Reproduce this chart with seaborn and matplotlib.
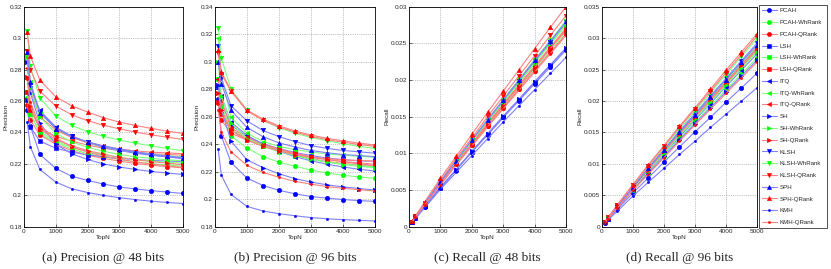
import numpy as np
import pandas as pd
import matplotlib
matplotlib.use('Agg')
import matplotlib.pyplot as plt
from matplotlib.lines import Line2D
from matplotlib.ticker import FuncFormatter, MultipleLocator
import seaborn as sns


topn = [100, 200, 500, 1000, 1500, 2000, 2500, 3000, 3500, 4000, 4500, 5000]

methods = ['PCAH', 'PCAH-WhRank', 'PCAH-QRank', 'LSH', 'LSH-WhRank', 'LSH-QRank',
           'ITQ', 'ITQ-WhRank', 'ITQ-QRank', 'SH', 'SH-WhRank', 'SH-QRank',
           'KLSH', 'KLSH-WhRank', 'KLSH-QRank', 'SPH', 'SPH-QRank', 'KMH', 'KMH-QRank']

# precision @ 48 bits, one row per method (same order as methods)
prec48 = [
    [0.254, 0.244, 0.226, 0.2171, 0.2122, 0.2095, 0.2072, 0.2053, 0.2041, 0.2030, 0.2021, 0.2012],
    [0.262, 0.252, 0.2395, 0.2335, 0.2295, 0.2265, 0.2245, 0.2228, 0.2213, 0.2202, 0.2193, 0.2185],
    [0.2575, 0.248, 0.2385, 0.2325, 0.2285, 0.2255, 0.2235, 0.2218, 0.2203, 0.2192, 0.2183, 0.2175],
    [0.2605, 0.2435, 0.2345, 0.2300, 0.2275, 0.2258, 0.2245, 0.2235, 0.2228, 0.2222, 0.2218, 0.2215],
    [0.2655, 0.2515, 0.2405, 0.2345, 0.2305, 0.2278, 0.2258, 0.2242, 0.2228, 0.2218, 0.2210, 0.2205],
    [0.266, 0.2545, 0.2425, 0.2375, 0.2345, 0.2320, 0.2300, 0.2285, 0.2275, 0.2265, 0.2260, 0.2255],
    [0.285, 0.268, 0.254, 0.2435, 0.2375, 0.2335, 0.2305, 0.2285, 0.2268, 0.2255, 0.2245, 0.2235],
    [0.29, 0.272, 0.2525, 0.2425, 0.237, 0.2335, 0.231, 0.2290, 0.2275, 0.2262, 0.2252, 0.2245],
    [0.281, 0.2665, 0.2500, 0.2415, 0.2368, 0.2335, 0.2312, 0.2295, 0.2283, 0.2275, 0.2270, 0.2265],
    [0.285, 0.265, 0.246, 0.2325, 0.2265, 0.2228, 0.2200, 0.2180, 0.2165, 0.2152, 0.2142, 0.2133],
    [0.288, 0.2685, 0.250, 0.2395, 0.2340, 0.2305, 0.2280, 0.2260, 0.2245, 0.2235, 0.2226, 0.2220],
    [0.275, 0.257, 0.242, 0.2355, 0.2315, 0.2285, 0.2262, 0.2242, 0.2227, 0.2215, 0.2205, 0.2195],
    [0.292, 0.270, 0.2530, 0.2430, 0.2375, 0.2340, 0.2310, 0.2290, 0.2272, 0.2258, 0.2245, 0.2235],
    [0.3045, 0.282, 0.262, 0.2505, 0.2445, 0.2405, 0.2375, 0.2352, 0.2332, 0.2315, 0.2298, 0.2284],
    [0.292, 0.28, 0.2663, 0.2568, 0.2513, 0.2475, 0.2446, 0.2423, 0.2403, 0.2385, 0.237, 0.2356],
    [0.291, 0.272, 0.2525, 0.2425, 0.2375, 0.2340, 0.2315, 0.2295, 0.2278, 0.2262, 0.2250, 0.2240],
    [0.3037, 0.2886, 0.2733, 0.2627, 0.257, 0.253, 0.2494, 0.2466, 0.2445, 0.2426, 0.2409, 0.2394],
    [0.2468, 0.2309, 0.2165, 0.2084, 0.2042, 0.2018, 0.2000, 0.1985, 0.1973, 0.1963, 0.1955, 0.1948],
    [0.274, 0.2595, 0.2440, 0.2365, 0.2310, 0.2275, 0.2250, 0.2230, 0.2213, 0.2200, 0.2188, 0.2178],
]

# precision @ 96 bits
prec96 = [
    [0.273, 0.246, 0.2268, 0.2154, 0.2100, 0.2065, 0.2040, 0.2020, 0.2008, 0.1998, 0.1990, 0.1985],
    [0.2874, 0.268, 0.2460, 0.2372, 0.2310, 0.2270, 0.2240, 0.2212, 0.2190, 0.2175, 0.2162, 0.2152],
    [0.270, 0.2575, 0.2480, 0.2430, 0.2390, 0.2355, 0.2320, 0.2295, 0.2275, 0.2260, 0.2250, 0.2241],
    [0.2818, 0.2700, 0.2540, 0.2455, 0.2405, 0.2368, 0.2340, 0.2318, 0.2300, 0.2288, 0.2280, 0.2275],
    [0.2874, 0.268, 0.2510, 0.2440, 0.2385, 0.2345, 0.2315, 0.2290, 0.2272, 0.2258, 0.2245, 0.2236],
    [0.271, 0.262, 0.2500, 0.2440, 0.2400, 0.2365, 0.2335, 0.2310, 0.2290, 0.2272, 0.2258, 0.2246],
    [0.2874, 0.275, 0.2560, 0.2465, 0.2400, 0.2350, 0.2310, 0.2280, 0.2255, 0.2235, 0.2218, 0.2205],
    [0.3175, 0.290, 0.2595, 0.2480, 0.2420, 0.2385, 0.2360, 0.2345, 0.2330, 0.2320, 0.2313, 0.2305],
    [0.2874, 0.272, 0.2520, 0.2450, 0.2395, 0.2360, 0.2330, 0.2305, 0.2288, 0.2275, 0.2265, 0.2255],
    [0.283, 0.265, 0.2423, 0.2287, 0.2230, 0.2185, 0.2150, 0.2125, 0.2105, 0.2090, 0.2078, 0.2067],
    [0.300, 0.275, 0.2555, 0.2440, 0.2390, 0.2350, 0.2318, 0.2290, 0.2270, 0.2252, 0.2240, 0.2229],
    [0.2775, 0.265, 0.2500, 0.2430, 0.2385, 0.2350, 0.2325, 0.2305, 0.2295, 0.2287, 0.2282, 0.2278],
    [0.3116, 0.288, 0.2680, 0.2570, 0.2500, 0.2455, 0.2420, 0.2390, 0.2370, 0.2355, 0.2345, 0.2335],
    [0.3247, 0.3024, 0.2800, 0.2650, 0.2575, 0.2520, 0.2480, 0.2450, 0.2425, 0.2403, 0.2385, 0.2370],
    [0.306, 0.291, 0.2785, 0.2642, 0.2575, 0.2525, 0.2488, 0.2458, 0.2433, 0.2415, 0.2398, 0.2385],
    [0.300, 0.284, 0.2648, 0.2522, 0.2455, 0.2410, 0.2380, 0.2355, 0.2338, 0.2325, 0.2318, 0.2310],
    [0.3085, 0.2927, 0.2790, 0.2648, 0.2583, 0.2533, 0.2497, 0.2467, 0.2443, 0.2425, 0.2408, 0.2395],
    [0.2363, 0.2175, 0.2035, 0.1948, 0.1915, 0.1895, 0.1880, 0.1867, 0.1858, 0.1852, 0.1847, 0.1842],
    [0.265, 0.2486, 0.2345, 0.2246, 0.2195, 0.2160, 0.2130, 0.2110, 0.2092, 0.2080, 0.2070, 0.2060],
]

# recall @ 48 bits
rec48 = [
    [0.0006, 0.0012, 0.0027, 0.0053, 0.0077, 0.0102, 0.0125, 0.0149, 0.0172, 0.0195, 0.0218, 0.0241],
    [0.0007, 0.0013, 0.0030, 0.0058, 0.0085, 0.0112, 0.0138, 0.0164, 0.0190, 0.0215, 0.0241, 0.0266],
    [0.0007, 0.0013, 0.0030, 0.0058, 0.0085, 0.0111, 0.0137, 0.0162, 0.0188, 0.0213, 0.0238, 0.0263],
    [0.0006, 0.0012, 0.0028, 0.0053, 0.0078, 0.0102, 0.0126, 0.0150, 0.0173, 0.0197, 0.0220, 0.0243],
    [0.0007, 0.0013, 0.0031, 0.0060, 0.0088, 0.0116, 0.0143, 0.0170, 0.0196, 0.0223, 0.0249, 0.0275],
    [0.0007, 0.0013, 0.0031, 0.0059, 0.0087, 0.0114, 0.0140, 0.0167, 0.0193, 0.0219, 0.0244, 0.0270],
    [0.0007, 0.0013, 0.0032, 0.0061, 0.0089, 0.0117, 0.0145, 0.0172, 0.0198, 0.0225, 0.0252, 0.0278],
    [0.0007, 0.0013, 0.0032, 0.0061, 0.0089, 0.0117, 0.0144, 0.0171, 0.0198, 0.0224, 0.0251, 0.0277],
    [0.0007, 0.0013, 0.0031, 0.0059, 0.0087, 0.0114, 0.0141, 0.0167, 0.0193, 0.0219, 0.0245, 0.0271],
    [0.0006, 0.0012, 0.0028, 0.0054, 0.0078, 0.0103, 0.0127, 0.0151, 0.0174, 0.0198, 0.0221, 0.0244],
    [0.0007, 0.0013, 0.0031, 0.0061, 0.0089, 0.0116, 0.0144, 0.0170, 0.0197, 0.0223, 0.0250, 0.0276],
    [0.0007, 0.0013, 0.0031, 0.0059, 0.0086, 0.0113, 0.0139, 0.0165, 0.0191, 0.0217, 0.0243, 0.0268],
    [0.0007, 0.0013, 0.0032, 0.0061, 0.0090, 0.0118, 0.0145, 0.0172, 0.0199, 0.0226, 0.0252, 0.0279],
    [0.0007, 0.0014, 0.0032, 0.0062, 0.0090, 0.0118, 0.0146, 0.0173, 0.0201, 0.0228, 0.0254, 0.0281],
    [0.0007, 0.0014, 0.0033, 0.0063, 0.0093, 0.0121, 0.0150, 0.0178, 0.0206, 0.0233, 0.0261, 0.0288],
    [0.0007, 0.0013, 0.0032, 0.0061, 0.0090, 0.0118, 0.0146, 0.0173, 0.0200, 0.0227, 0.0253, 0.0280],
    [0.0008, 0.0014, 0.0034, 0.0066, 0.0096, 0.0126, 0.0156, 0.0185, 0.0214, 0.0243, 0.0272, 0.0300],
    [0.0006, 0.0011, 0.0026, 0.0051, 0.0074, 0.0097, 0.0120, 0.0143, 0.0165, 0.0187, 0.0209, 0.0231],
    [0.0007, 0.0013, 0.0030, 0.0057, 0.0084, 0.0110, 0.0136, 0.0161, 0.0186, 0.0211, 0.0236, 0.0261],
]

# recall @ 96 bits
rec96 = [
    [0.0006, 0.0012, 0.0028, 0.0054, 0.0078, 0.0103, 0.0127, 0.0151, 0.0174, 0.0198, 0.0221, 0.0244],
    [0.0007, 0.0013, 0.0031, 0.0059, 0.0086, 0.0113, 0.0140, 0.0166, 0.0192, 0.0218, 0.0243, 0.0269],
    [0.0007, 0.0013, 0.0032, 0.0061, 0.0090, 0.0118, 0.0146, 0.0173, 0.0200, 0.0227, 0.0253, 0.0280],
    [0.0007, 0.0014, 0.0032, 0.0063, 0.0092, 0.0120, 0.0148, 0.0176, 0.0203, 0.0231, 0.0258, 0.0285],
    [0.0007, 0.0014, 0.0032, 0.0062, 0.0090, 0.0118, 0.0146, 0.0173, 0.0201, 0.0228, 0.0254, 0.0281],
    [0.0007, 0.0014, 0.0032, 0.0062, 0.0091, 0.0119, 0.0147, 0.0174, 0.0201, 0.0228, 0.0255, 0.0282],
    [0.0007, 0.0013, 0.0031, 0.0060, 0.0088, 0.0116, 0.0143, 0.0170, 0.0196, 0.0223, 0.0249, 0.0275],
    [0.0007, 0.0014, 0.0033, 0.0063, 0.0092, 0.0121, 0.0149, 0.0177, 0.0205, 0.0232, 0.0260, 0.0287],
    [0.0007, 0.0014, 0.0032, 0.0062, 0.0091, 0.0119, 0.0147, 0.0175, 0.0202, 0.0229, 0.0256, 0.0283],
    [0.0007, 0.0013, 0.0030, 0.0058, 0.0085, 0.0112, 0.0138, 0.0164, 0.0189, 0.0215, 0.0240, 0.0265],
    [0.0007, 0.0013, 0.0032, 0.0061, 0.0089, 0.0117, 0.0145, 0.0172, 0.0198, 0.0225, 0.0252, 0.0278],
    [0.0007, 0.0014, 0.0032, 0.0062, 0.0091, 0.0120, 0.0148, 0.0175, 0.0203, 0.0230, 0.0257, 0.0284],
    [0.0007, 0.0014, 0.0033, 0.0064, 0.0094, 0.0123, 0.0152, 0.0180, 0.0208, 0.0236, 0.0264, 0.0292],
    [0.0008, 0.0014, 0.0034, 0.0066, 0.0096, 0.0126, 0.0155, 0.0184, 0.0213, 0.0242, 0.0271, 0.0299],
    [0.0008, 0.0015, 0.0035, 0.0067, 0.0097, 0.0128, 0.0158, 0.0187, 0.0216, 0.0245, 0.0274, 0.0303],
    [0.0007, 0.0014, 0.0033, 0.0063, 0.0093, 0.0122, 0.0150, 0.0178, 0.0206, 0.0234, 0.0262, 0.0289],
    [0.0008, 0.0015, 0.0035, 0.0067, 0.0099, 0.0129, 0.0160, 0.0189, 0.0219, 0.0249, 0.0278, 0.0307],
    [0.0006, 0.0011, 0.0025, 0.0049, 0.0071, 0.0093, 0.0115, 0.0136, 0.0158, 0.0179, 0.0200, 0.0221],
    [0.0007, 0.0013, 0.0030, 0.0058, 0.0084, 0.0110, 0.0136, 0.0162, 0.0187, 0.0212, 0.0237, 0.0262],
]

captions = ['(a) Precision @ 48 bits', '(b) Precision @ 96 bits',
            '(c) Recall @ 48 bits', '(d) Recall @ 96 bits']


def variant_color(name):
    if name.endswith('WhRank'):
        return (0.0, 1.0, 0.0)
    if name.endswith('QRank'):
        return (1.0, 0.0, 0.0)
    return (0.0, 0.0, 1.0)


base_marker = {'PCAH': 'o', 'LSH': 's', 'ITQ': '<', 'SH': '>', 'KLSH': 'v', 'SPH': '^', 'KMH': '.'}
palette = {m: variant_color(m) for m in methods}
marker_map = {m: base_marker[m.split('-')[0]] for m in methods}


def lighten(c, f=0.5):
    return tuple(v + (1 - v) * f for v in c[:3])


def to_long(values):
    rows = []
    for name, ys in zip(methods, values):
        for x, y in zip(topn, ys):
            rows.append({'TopN': x, 'value': y, 'method': name})
    return pd.DataFrame(rows)


sns.set_style('ticks')
plt.rcParams['font.family'] = ['Liberation Sans', 'DejaVu Sans']

fig = plt.figure(figsize=(8.31, 2.69), dpi=100)

panels = [
    (prec48, [0.0289, 0.157, 0.191, 0.818], (0.18, 0.32), 0.02, 'Precision'),
    (prec96, [0.2587, 0.157, 0.1925, 0.818], (0.18, 0.34), 0.02, 'Precision'),
    (rec48, [0.4922, 0.157, 0.189, 0.818], (0.0, 0.03), 0.005, 'Recall'),
    (rec96, [0.7244, 0.157, 0.1865, 0.818], (0.0, 0.035), 0.005, 'Recall'),
]

fmt = FuncFormatter(lambda v, p: '%g' % round(v, 4))

for (vals, rect, ylim, ystep, ylabel), cap in zip(panels, captions):
    ax = fig.add_axes(rect)
    df = to_long(vals)
    sns.lineplot(data=df, x='TopN', y='value', hue='method', style='method',
                 hue_order=methods, style_order=methods, palette=palette,
                 markers=marker_map, dashes=False, markersize=3.2, linewidth=0.8,
                 markeredgewidth=0.4, legend=False, errorbar=None, ax=ax)
    for line in ax.get_lines():
        c = matplotlib.colors.to_rgb(line.get_color())
        line.set_markerfacecolor(c)
        line.set_markeredgecolor(c)
        line.set_color(lighten(c))
    ax.set_xlim(0, 5000)
    ax.set_ylim(*ylim)
    ax.xaxis.set_major_locator(MultipleLocator(1000))
    ax.yaxis.set_major_locator(MultipleLocator(ystep))
    ax.yaxis.set_major_formatter(fmt)
    ax.grid(True, linestyle=':', linewidth=0.5, color='0.55')
    ax.tick_params(direction='in', length=2, width=0.5, labelsize=4.6, pad=1.5)
    for s in ax.spines.values():
        s.set_linewidth(0.6)
        s.set_color('black')
    ax.set_xlabel('TopN', fontsize=4.6, labelpad=1)
    ax.set_ylabel(ylabel, fontsize=4.6, labelpad=0.5)
    cx = rect[0] + rect[2] / 2
    fig.text(cx, 0.041, cap, ha='center', va='center', family='Liberation Serif', fontsize=9.5)

handles = []
for m in methods:
    c = palette[m]
    handles.append(Line2D([], [], color=lighten(c), lw=0.8, marker=marker_map[m],
                          markersize=3.0, markerfacecolor=c, markeredgecolor=c,
                          markeredgewidth=0.4))

leg = fig.legend(handles, methods, loc='upper left',
                 bbox_to_anchor=(0.9134, 0.156, 0.0818, 0.825),
                 bbox_transform=fig.transFigure, mode='expand', borderaxespad=0,
                 fontsize=4.4, frameon=True, fancybox=False, edgecolor='black',
                 labelspacing=1.06, handlelength=2.4, handletextpad=0.5,
                 borderpad=0.5)
leg.get_frame().set_linewidth(0.6)

fig.savefig('out.png', dpi=100)
